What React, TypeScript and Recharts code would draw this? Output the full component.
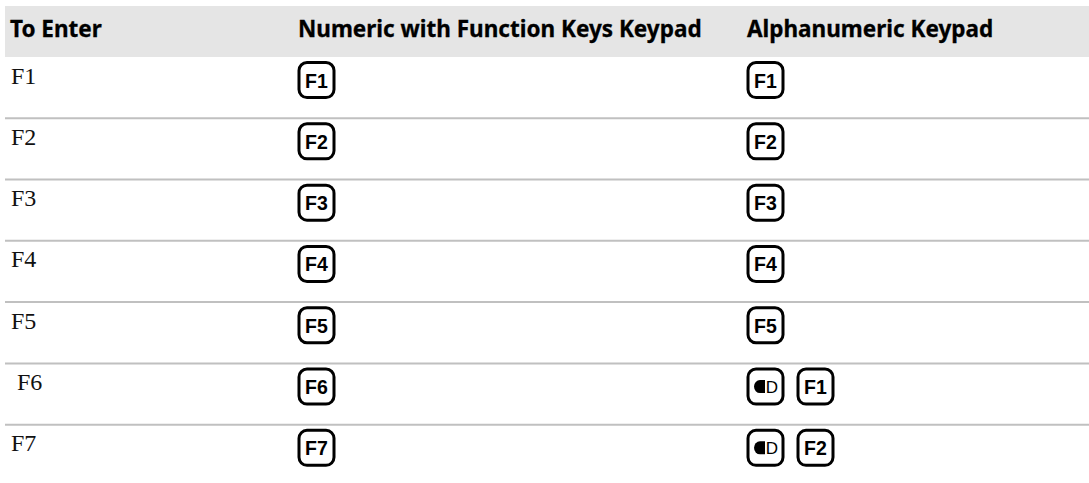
import React from "react";
import { ComposedChart, Scatter, XAxis, YAxis, ReferenceArea } from "recharts";

const rowLabels = ["F1", "F2", "F3", "F4", "F5", " F6", "F7"];
const numericKeys = ["F1", "F2", "F3", "F4", "F5", "F6", "F7"];
const alphaKeys = [["F1"], ["F2"], ["F3"], ["F4"], ["F5"], ["SHIFT", "F1"], ["SHIFT", "F2"]];
const columnTitles = ["To Enter", "Numeric with Function Keys Keypad", "Alphanumeric Keypad"];

const W = 1089;
const H = 486;
const COL_X = [10, 298, 747];
const HEADER_ROWS = -0.83;
const rowBoundaries = [1, 2, 3, 4, 5, 6];

const headerPoints = columnTitles.map((title, i) => ({ x: COL_X[i], y: HEADER_ROWS / 2, title }));
const labelPoints = rowLabels.map((label, i) => ({ x: COL_X[0] + 1, y: i + 0.5, label }));
const numericPoints = numericKeys.map((k, i) => ({ x: COL_X[1], y: i + 0.5, keys: [k] }));
const alphaPoints = alphaKeys.map((k, i) => ({ x: COL_X[2], y: i + 0.5, keys: k }));

const HeaderShape = (props: any) => (
  <text x={props.cx} y={props.cy} dy={6} fontFamily="'Noto Sans', sans-serif" fontWeight={700} fontSize={22.5} fill="#000" stroke="#000" strokeWidth={0.3}>
    {props.payload.title}
  </text>
);

const LabelShape = (props: any) => (
  <text x={props.cx} y={props.cy} dy={-4} fontFamily="'Liberation Serif', serif" fontSize={24} fill="#111" style={{ whiteSpace: "pre" }}>
    {props.payload.label}
  </text>
);

const KeyCap = ({ x, y, name }: { x: number; y: number; name: string }) => (
  <g>
    <rect x={x + 1} y={y} width={35} height={35} rx={8} fill="#fff" stroke="#000" strokeWidth={3} />
    {name === "SHIFT" ? (
      <g>
        <path d={`M${x + 18} ${y + 11} h-5 a6 6.5 0 0 0 0 13 h5 z`} fill="#000" />
        <text x={x + 25} y={y + 24} textAnchor="middle" fontFamily="'Liberation Sans', sans-serif" fontSize={17} fill="#000">D</text>
      </g>
    ) : (
      <text x={x + 18.5} y={y + 25} textAnchor="middle" fontFamily="'Liberation Sans', sans-serif" fontWeight={700} fontSize={19.5} fill="#000">{name}</text>
    )}
  </g>
);

const KeysShape = (props: any) => (
  <g>
    {props.payload.keys.map((k: string, i: number) => (
      <KeyCap key={i} x={props.cx + i * 50} y={props.cy - 25} name={k} />
    ))}
  </g>
);

export default function App() {
  return (
    <div style={{ position: "absolute", left: 0, top: 0, width: W, height: 483, overflow: "hidden" }}>
      <ComposedChart width={W} height={H} margin={{ top: 6, right: 0, bottom: 0, left: 0 }}>
        <XAxis type="number" dataKey="x" domain={[0, W]} height={0} hide allowDataOverflow />
        <YAxis type="number" dataKey="y" reversed domain={[HEADER_ROWS, 7]} width={0} hide allowDataOverflow />
        <ReferenceArea x1={5} x2={W} y1={HEADER_ROWS} y2={0} fill="#e5e5e5" fillOpacity={1} stroke="none" />
        {rowBoundaries.map((b) => (
          <ReferenceArea key={b} x1={5} x2={W} y1={b - 0.016} y2={b + 0.016} fill="#c0c0c0" fillOpacity={1} stroke="none" />
        ))}
        <Scatter data={headerPoints} shape={<HeaderShape />} isAnimationActive={false} />
        <Scatter data={labelPoints} shape={<LabelShape />} isAnimationActive={false} />
        <Scatter data={numericPoints} shape={<KeysShape />} isAnimationActive={false} />
        <Scatter data={alphaPoints} shape={<KeysShape />} isAnimationActive={false} />
      </ComposedChart>
    </div>
  );
}
